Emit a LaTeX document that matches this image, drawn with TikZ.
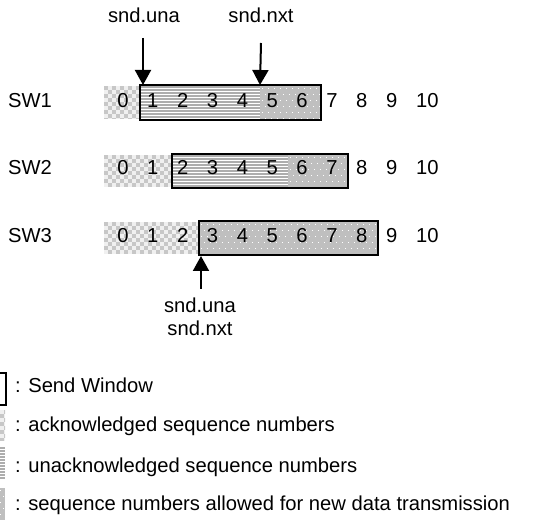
\documentclass[tikz,border=0pt]{standalone}
\usepackage{fontspec}
\setmainfont{Liberation Sans}
\usetikzlibrary{arrows.meta}
\colorlet{ackbg}{black!6}
\colorlet{ackfg}{black!22}
\colorlet{stripecol}{black!32}
\colorlet{dotbg}{black!25}
\newcommand\ackpat[4]{%
  \begin{scope}
    \clip (#1,#2) rectangle (#3,#4);
    \fill[ackbg] (#1,#2) rectangle (#3,#4);
    \foreach \i in {0,...,25}{
      \foreach \j in {0,...,5}{
        \fill[ackfg] ({#1+4*\i},{#2+8*\j+4*mod(\i,2)}) rectangle ++(4,4);
      }}
  \end{scope}}
\newcommand\unackpat[4]{%
  \begin{scope}
    \clip (#1,#2) rectangle (#3,#4);
    \fill[white] (#1,#2) rectangle (#3,#4);
    \foreach \j in {0,...,14}{
      \draw[stripecol, line width=1.3pt] (#1,{#2+1+3*\j}) -- (#3,{#2+1+3*\j});
    }
  \end{scope}}
\newcommand\newpat[4]{%
  \begin{scope}
    \clip (#1,#2) rectangle (#3,#4);
    \fill[dotbg] (#1,#2) rectangle (#3,#4);
    \foreach \i in {0,...,31}{
      \foreach \j in {0,...,6}{
        \fill[white] ({#1+2+6*\i+3*mod(\j,2)},{#2+2+6*\j}) rectangle ++(1,1);
      }}
  \end{scope}}
\begin{document}
\begin{tikzpicture}[x=1pt,y=-1pt,
  every node/.style={font=\fontsize{20.2}{24}\selectfont, inner sep=0pt},
  lbl/.style={anchor=base},
  boxline/.style={draw=black, line width=2pt},
  ptr/.style={-{Triangle[length=15pt,width=16pt]}, line width=2pt}]
\useasboundingbox (0,0) rectangle (536,521);
\begin{scope}
\clip (0,0) rectangle (536,521);
% row 1
\ackpat{104}{86}{140}{119}
\unackpat{140}{86}{260}{119}
\newpat{260}{86}{321}{119}
\draw[boxline] (140,85) rectangle (321,120);
% row 2
\ackpat{104}{155}{172}{187}
\unackpat{172}{155}{288}{187}
\newpat{288}{155}{348}{187}
\draw[boxline] (172,154) rectangle (348,188);
% row 3
\ackpat{104}{222}{199}{254}
\newpat{199}{222}{378}{254}
\draw[boxline] (199,221) rectangle (378,255);
% digits
\foreach \r/\b in {1/108, 2/175, 3/243}{
  \foreach \k in {0,...,9}{
    \node[lbl] (r\r d\k) at ({123+29.85*\k},\b) {\k};
  }
  \node[anchor=base west] (r\r d10) at (416,\b) {10};
}
% row labels
\node[anchor=base west] (sw1) at (8,108) {SW1};
\node[anchor=base west] (sw2) at (8,175) {SW2};
\node[anchor=base west] (sw3) at (8,243) {SW3};
% pointers
\node[lbl] (una) at (144,23) {snd.una};
\node[lbl] (nxt) at (261,23) {snd.nxt};
\coordinate (una1) at (143,38);
\coordinate (una1e) at (143,85);
\coordinate (nxt1) at (261,43);
\coordinate (nxt1e) at (260,85);
\draw[ptr] (una1) -- (una1e);
\draw[ptr] (nxt1) -- (nxt1e);
\node[lbl] (una3) at (200,313) {snd.una};
\node[lbl] (nxt3) at (200,336) {snd.nxt};
\coordinate (p3) at (201,289);
\coordinate (p3e) at (201,256);
\draw[ptr] (p3) -- (p3e);
% legend
\draw[boxline] (-20,373) rectangle (6,405);
\ackpat{-20}{410}{5}{441}
\unackpat{-20}{447}{5}{480}
\newpat{-20}{488}{5}{520}
\node[anchor=base west] (l1) at (15,393) {: Send Window};
\node[anchor=base west] (l2) at (15,432) {: acknowledged sequence numbers};
\node[anchor=base west] (l3) at (15,472) {: unacknowledged sequence numbers};
\node[anchor=base west] (l4) at (15,511) {: sequence numbers allowed for new data transmission};
\end{scope}
\end{tikzpicture}
\end{document}
